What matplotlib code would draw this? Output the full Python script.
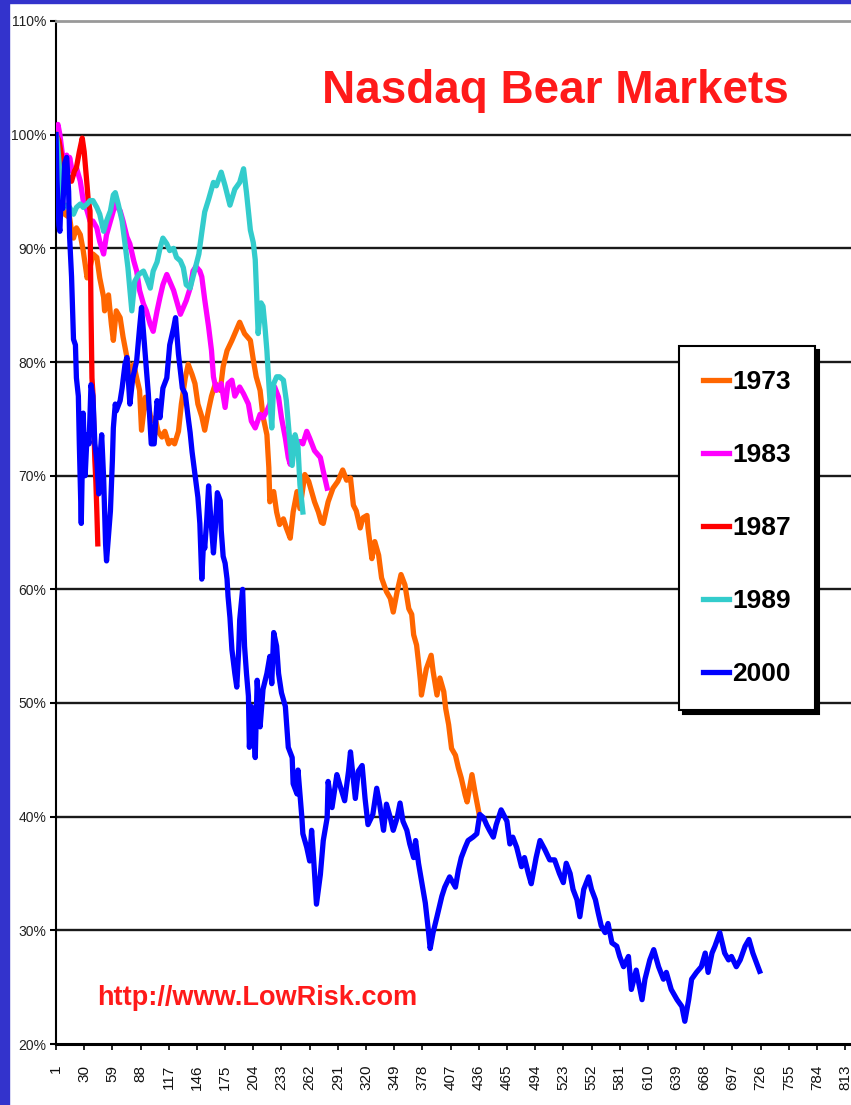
import matplotlib
matplotlib.use("Agg")
import matplotlib.pyplot as plt
from matplotlib.patches import Rectangle

plt.rcParams['font.family'] = ['Liberation Sans Narrow', 'Liberation Sans', 'DejaVu Sans']

# trading day since the peak -> index level in % of the peak
days_1973 = [1, 3, 6, 10, 15, 17, 19, 22, 26, 29, 33, 36, 39, 43, 46, 50, 51, 55, 58, 60,
             63, 67, 70, 74, 77, 81, 84, 87, 89, 93, 96, 99, 103, 106, 110, 113, 117, 120, 123, 127,
             130, 134, 137, 141, 144, 147, 151, 154, 158, 161, 165, 170, 173, 177, 182, 185, 190, 195, 201, 204,
             207, 211, 214, 218, 220, 221, 225, 228, 231, 235, 238, 242, 245, 249, 252, 257, 261, 264, 267, 271,
             274, 276, 281, 286, 291, 296, 300, 304, 307, 310, 314, 317, 321, 322, 326, 329, 333, 336, 341, 345,
             348, 352, 356, 360, 364, 367, 369, 372, 374, 376, 377, 381, 382, 387, 389, 393, 396, 400, 402, 405,
             408, 412, 415, 418, 422, 424, 429, 432, 436, 437]
pct_1973 = [100, 97, 95, 93, 92.7, 91.5, 90.9, 91.8, 91.2, 89.8, 87.4, 88.3, 89.5, 89.2, 87.4, 85.7, 84.5, 85.9, 83.3, 81.9,
            84.5, 83.9, 82.2, 80.4, 78.9, 79.8, 78.6, 77.5, 74, 76.9, 76.3, 74.8, 75.1, 73.9, 73.4, 73.9, 72.8, 73.1, 72.8, 73.9,
            76.3, 78.6, 79.8, 78.9, 78.1, 76.3, 75.2, 74, 75.8, 77, 78.1, 77.5, 79.6, 81, 81.9, 82.5, 83.5, 82.5, 81.9, 80.2,
            78.7, 77.5, 75.2, 73.6, 70.7, 67.7, 68.6, 66.8, 65.7, 66.2, 65.4, 64.5, 66.8, 68.6, 67.1, 70.1, 69.5, 68.6, 67.7, 66.8,
            65.9, 65.8, 67.7, 68.9, 69.5, 70.5, 69.6, 69.8, 67.4, 66.9, 65.4, 66.3, 66.5, 65.4, 62.7, 64.2, 63, 61, 59.8, 59.2,
            58, 59.8, 61.3, 60.4, 58.3, 57.8, 56, 55.1, 53.6, 51.9, 50.7, 52.5, 53, 54.2, 52.8, 50.7, 52.2, 51, 49.5, 48.1,
            46, 45.4, 44.3, 43.4, 41.9, 41.3, 43.7, 42.2, 40.4, 39.8]

days_1983 = [1, 3, 5, 8, 10, 12, 14, 15, 17, 19, 22, 26, 29, 33, 36, 39, 43, 46, 50, 53,
             57, 62, 67, 70, 74, 77, 81, 84, 87, 91, 94, 98, 101, 105, 108, 111, 115, 118, 122, 125,
             129, 132, 135, 139, 142, 145, 149, 151, 154, 158, 161, 163, 166, 171, 175, 178, 182, 185, 190, 194,
             199, 202, 206, 211, 214, 218, 221, 226, 230, 233, 237, 240, 242, 245, 249, 252, 255, 259, 262, 267,
             273, 276, 280]
pct_1983 = [100, 100.9, 100, 98, 97.7, 98.2, 96.8, 98, 97.1, 96.5, 97.1, 95.9, 94.2, 93.3, 92.4, 92.4, 91.8, 90.6, 89.5, 91.2,
            92.4, 93.9, 93.3, 92.4, 91, 90.4, 88.9, 88, 86.3, 85.1, 84.5, 83.3, 82.7, 84.5, 85.7, 86.8, 87.7, 87.1, 86.3, 85.4,
            84.2, 84.8, 85.4, 86.5, 88, 88.4, 88, 87.5, 85.5, 83.1, 81, 78.7, 77.5, 78.1, 76, 78.1, 78.4, 77, 77.8, 77.2,
            76.3, 74.8, 74.2, 75.4, 75.1, 75.7, 76.3, 77.8, 76.9, 75.1, 73.3, 71.6, 71, 73.3, 72.8, 73, 72.8, 73.9, 73.3, 72.2,
            71.6, 70.4, 68.9]

days_1987 = [1, 4, 8, 12, 17, 20, 22, 25, 28, 30, 31, 33, 34, 36, 37, 38, 39, 40, 41, 42, 43, 44]
pct_1987 = [100, 99.5, 97.5, 96.5, 95.9, 96.8, 97.1, 98.5, 99.7, 98.5, 97.5, 95.5, 94.4, 93.3, 84.5, 78.6, 77.2, 74, 71.3, 69.5, 66.9, 64]

days_1989 = [1, 2, 4, 6, 8, 12, 15, 19, 22, 26, 29, 33, 36, 39, 43, 46, 50, 53, 57, 60,
             62, 65, 69, 72, 75, 79, 82, 86, 91, 94, 98, 101, 105, 108, 111, 115, 118, 122, 125, 129,
             132, 135, 139, 142, 145, 148, 151, 154, 158, 163, 166, 171, 175, 180, 185, 190, 194, 197, 201, 204,
             206, 207, 209, 212, 214, 216, 218, 220, 223, 225, 228, 231, 235, 238, 241, 244, 247, 250, 252, 255]
pct_1989 = [100, 99.7, 97.7, 95, 93.5, 93.8, 93.6, 93, 93.6, 93.9, 93.6, 93.9, 94.2, 94.2, 93.6, 93, 91.5, 92.4, 93.3, 94.7,
            94.9, 93.9, 92.4, 90.4, 88.3, 84.5, 87.1, 87.7, 88, 87.4, 86.5, 88, 88.8, 90, 90.9, 90.4, 89.8, 90, 89.2, 88.9,
            88.3, 86.8, 86.5, 87.5, 88.5, 89.5, 91.4, 93.2, 94.3, 95.8, 95.5, 96.7, 95.5, 93.8, 95.2, 95.8, 97, 94.9, 91.6, 90.5,
            89, 86.9, 82.5, 85.2, 84.9, 83.1, 81, 78.1, 74.2, 78.1, 78.7, 78.7, 78.4, 76.6, 73.6, 70.9, 73.6, 72.5, 69.2, 66.8]

days_2000 = [1, 2, 4, 5, 6, 8, 10, 12, 14, 15, 17, 19, 21, 22, 24, 25, 27, 29, 31, 33,
             35, 37, 39, 41, 43, 45, 46, 48, 50, 52, 53, 57, 59, 60, 62, 63, 67, 69, 72, 74,
             77, 80, 84, 87, 89, 92, 96, 99, 102, 105, 108, 111, 115, 118, 122, 124, 127, 131, 134, 137,
             139, 141, 144, 147, 149, 151, 153, 154, 156, 158, 160, 163, 165, 167, 170, 171, 173, 175, 177, 178,
             180, 182, 185, 187, 189, 190, 193, 195, 197, 199, 200, 202, 204, 206, 208, 211, 214, 218, 221, 223,
             225, 228, 230, 233, 237, 240, 244, 245, 249, 250, 254, 255, 259, 262, 264, 266, 269, 273, 276, 280,
             281, 285, 290, 293, 298, 302, 304, 309, 312, 316, 319, 322, 327, 331, 334, 338, 341, 345, 348, 352,
             355, 358, 362, 365, 369, 371, 374, 377, 381, 384, 386, 389, 393, 398, 401, 406, 412, 415, 418, 422,
             425, 430, 434, 437, 441, 444, 447, 451, 454, 459, 465, 468, 471, 475, 480, 483, 487, 490, 495, 499,
             504, 509, 514, 519, 523, 526, 530, 533, 537, 540, 544, 549, 552, 556, 559, 562, 566, 569, 573, 578,
             581, 585, 590, 593, 598, 604, 607, 612, 616, 621, 626, 629, 634, 640, 645, 648, 652, 655, 660, 665,
             669, 672, 676, 679, 684, 689, 693, 696, 701, 705, 710, 714, 718, 722, 725]
pct_2000 = [100, 96, 92, 91.5, 94, 93.5, 97.5, 98, 95, 91, 87.5, 82, 81.5, 78.6, 77, 72.8, 65.8, 75.5, 70, 73.6,
            72.8, 78, 77, 72.8, 71.3, 68.4, 71.3, 73.6, 69.8, 64, 62.5, 66.9, 71.3, 74.2, 76.3, 75.7, 76.6, 77.7, 79.8, 80.4,
            76.3, 78.6, 80.1, 83, 84.8, 81.5, 77.2, 72.8, 72.8, 76.6, 75.1, 77.7, 78.6, 81.5, 83, 83.9, 80.7, 77.7, 77.2, 75.1,
            73.8, 72.1, 70.1, 68.1, 65.8, 60.9, 64.5, 63.6, 66, 69.1, 66.6, 63.2, 65.5, 68.5, 67.8, 65.2, 62.9, 62.3, 60.9, 59.4,
            57.5, 54.7, 52.6, 51.4, 54.7, 57.3, 60, 55, 52.6, 50.6, 46.1, 49.7, 49.1, 45.2, 52, 47.9, 51.2, 52.6, 54.1, 51.7,
            56.2, 55, 52.6, 50.9, 49.7, 46.1, 45.2, 42.9, 42, 44.1, 39.9, 38.5, 37.3, 36.1, 38.8, 36.4, 32.3, 34.9, 37.9, 39.9,
            43.1, 40.8, 43.7, 42.8, 41.4, 44, 45.7, 41.6, 44, 44.5, 41.6, 39.3, 40.2, 42.5, 41.1, 38.8, 41.1, 39.9, 38.8, 39.9,
            41.2, 39.6, 38.8, 37.6, 36.4, 37.9, 35.9, 34.4, 32.4, 30.1, 28.4, 29.8, 31.2, 33, 33.8, 34.7, 33.8, 35.3, 36.4, 37.3,
            37.9, 38.2, 38.5, 40.2, 39.9, 39.3, 38.8, 38.2, 39.3, 40.6, 39.6, 37.6, 38.2, 37.3, 35.6, 36.4, 35, 34.1, 36.4, 37.9,
            37.1, 36.2, 36.2, 35, 34.2, 35.9, 35, 33.6, 32.7, 31.2, 33.6, 34.7, 33.6, 32.7, 31.5, 30.4, 29.8, 30.6, 28.9, 28.6,
            27.7, 26.8, 27.7, 24.8, 26.5, 23.9, 25.7, 27.4, 28.3, 26.8, 25.7, 26.3, 24.8, 23.9, 23.3, 22, 23.9, 25.7, 26.3, 26.8,
            28, 26.3, 28, 28.6, 29.8, 28, 27.4, 27.7, 26.8, 27.4, 28.6, 29.2, 28, 27.1, 26.4]

series = [
    ("1973", days_1973, pct_1973, "#FF6600"),
    ("1983", days_1983, pct_1983, "#FF00FF"),
    ("1987", days_1987, pct_1987, "#FF0000"),
    ("1989", days_1989, pct_1989, "#33CCCC"),
    ("2000", days_2000, pct_2000, "#0000FF"),
]
x_ticks = list(range(1, 814, 29))
y_ticks = list(range(20, 111, 10))

W, H = 851, 1105
fig = plt.figure(figsize=(W / 100, H / 100), dpi=100)
fig.patch.set_facecolor("white")
ax = fig.add_axes([56 / W, 1 - 1044 / H, 1 - 56 / W, (1044 - 21) / H])

for i, (name, d, p, c) in enumerate(series):
    ax.plot(d, p, color=c, lw=3.8, label=name, zorder=2 + i)

ax.set_xlim(1, 819)
ax.set_ylim(20, 110)
ax.set_xticks(x_ticks)
ax.set_xticklabels([str(t) for t in x_ticks], rotation=90)
ax.set_yticks(y_ticks)
ax.set_yticklabels([f"{t}%" for t in y_ticks])

ax.set_axisbelow(True)
ax.yaxis.grid(True, color="#1a1a1a", lw=1.7)
ticks = ax.yaxis.get_major_ticks()
ticks[0].gridline.set_visible(False)
ticks[-1].gridline.set_visible(False)

ax.spines["right"].set_visible(False)
ax.spines["top"].set_color("#999999")
ax.spines["top"].set_linewidth(2)
ax.spines["left"].set_color("black")
ax.spines["left"].set_linewidth(1.5)
ax.spines["bottom"].set_color("black")
ax.spines["bottom"].set_linewidth(2.2)

ax.tick_params(axis="y", length=4, width=1.5, color="black", pad=3, labelsize=10, labelcolor="#222222")
ax.tick_params(axis="x", length=4, width=1.2, color="black", pad=11, labelsize=11, labelcolor="#111111")

fig.text(555 / W, 1 - 103 / H, "Nasdaq Bear Markets", ha="center", va="baseline",
         fontsize=33, fontweight="bold", color="#FF1A1A")
fig.text(97 / W, 1 - 1005 / H, "http://www.LowRisk.com", ha="left", va="baseline",
         fontsize=19.5, fontweight="bold", color="#FF1A1A")

leg = ax.legend(loc="upper left", bbox_to_anchor=(679 / W, 1 - 346 / H), bbox_transform=fig.transFigure,
                frameon=True, fancybox=False, edgecolor="black", framealpha=1, fontsize=19,
                handlelength=1.0, handletextpad=0.12, labelspacing=1.86, borderpad=0.9, borderaxespad=0,
                shadow={"ox": 3, "oy": -3, "color": "black", "alpha": 1})
leg.get_frame().set_linewidth(1.5)
for t in leg.get_texts():
    t.set_fontweight("bold")

# blue slide border
fig.add_artist(Rectangle((0, 0), 9 / W, 1, transform=fig.transFigure, color="#3333CC", zorder=10))
fig.add_artist(Rectangle((0, 1 - 3 / H), 1, 3 / H, transform=fig.transFigure, color="#3333CC", zorder=10))

fig.savefig("out.png", dpi=100)
